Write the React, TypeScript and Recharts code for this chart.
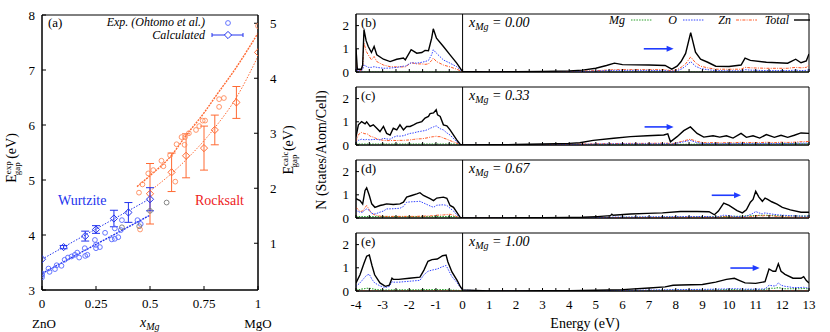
import React from "react";
import {
  ComposedChart,
  Line,
  Scatter,
  XAxis,
  YAxis,
  ErrorBar,
  ReferenceArea,
  ReferenceLine,
} from "recharts";

const SERIF = "'Liberation Serif','DejaVu Serif','Times New Roman',serif";
const BLUE = "#2233ee";
const ORANGE = "#ff6a33";
const RED = "#ee2222";
const GREY = "#777777";

// ---------------- Panel (a) data ----------------
const xTicksA = [0, 0.25, 0.5, 0.75, 1];
const yTicksExp = [3, 4, 5, 6, 7, 8];
const yTicksCalc = [1, 2, 3, 4, 5];

// experimental gaps (eV), wurtzite (blue)
const wzExp: [number, number][] = [
  [0, 3.27], [0, 3.23], [0, 3.3], [0.03, 3.39], [0.035, 3.33], [0.06, 3.38],
  [0.068, 3.45], [0.09, 3.44], [0.105, 3.55], [0.12, 3.59], [0.137, 3.61],
  [0.152, 3.64], [0.163, 3.68], [0.172, 3.59], [0.198, 3.76], [0.2, 3.62],
  [0.21, 3.64], [0.245, 3.91], [0.25, 3.82], [0.25, 3.76], [0.268, 3.78],
  [0.292, 4.04], [0.323, 3.92], [0.337, 4.12], [0.337, 3.93], [0.353, 3.96],
  [0.365, 4.09], [0.37, 4.27], [0.442, 4.27], [0.457, 4.2],
];
// experimental gaps, rocksalt (orange)
const rsExp: [number, number][] = [
  [0.449, 4.77], [0.454, 4.1], [0.465, 4.92], [0.492, 5.12], [0.515, 5.18],
  [0.553, 5.35], [0.562, 5.25], [0.593, 5.45], [0.617, 4.97], [0.623, 5.65],
  [0.646, 5.78], [0.662, 5.78], [0.66, 5.64], [0.68, 5.85], [0.713, 5.91],
  [0.728, 5.98], [0.744, 6.08], [0.755, 6.08], [0.82, 6.33], [0.82, 6.47],
  [0.842, 6.49], [1.0, 7.8],
];
// other experimental points (grey)
const otherExp: [number, number][] = [
  [0.37, 4.14], [0.45, 4.16], [0.5, 4.44], [0.577, 4.59],
];
// calculated gaps (right axis, eV) with error
const wzCalcX = [0, 0.1, 0.2, 0.25, 0.333, 0.4, 0.5];
const wzCalcY = [0.71, 0.93, 1.13, 1.25, 1.45, 1.56, 1.8];
const wzCalcErr = [0, 0.03, 0.09, 0.07, 0.15, 0.18, 0.21];
const rsCalcX = [0.5, 0.6, 0.667, 0.75, 0.8, 0.9, 1.0];
const rsCalcY = [1.9, 2.29, 2.59, 2.73, 3.06, 3.56, 4.47];
const rsCalcErr = [0.55, 0.35, 0.4, 0.4, 0.27, 0.29, 0];
// fits
const wzExpFit: [number, number][] = [[0, 3.3], [0.5, 4.36]];
const wzCalcFit: [number, number][] = [[0, 0.71], [0.5, 1.81]];
const rsExpFit: [number, number][] = [
  [0.44, 4.88], [0.5, 5.08], [0.6, 5.45], [0.665, 5.8], [0.75, 6.22],
  [0.8, 6.5], [0.9, 7.05], [1.0, 7.67],
];
const rsCalcFit: [number, number][] = [
  [0.5, 1.95], [0.6, 2.27], [0.7, 2.65], [0.8, 3.1], [0.9, 3.65], [1.0, 4.4],
];

// ---------------- DOS data ----------------
const eTicks = [
  -4, -3.5, -3, -2.5, -2, -1.5, -1, -0.5, 0, 0.5, 1, 1.5, 2, 2.5, 3, 3.5, 4,
  4.5, 5, 5.5, 6, 6.5, 7, 7.5, 8, 8.5, 9, 9.5, 10, 10.5, 11, 11.5, 12, 12.5, 13,
];
const nTicks = [0, 1, 2];

// (b) x = 0.00
const bE = [-4, -3.95, -3.8, -3.75, -3.7, -3.62, -3.54, -3.42, -3.32, -3.22, -2.97, -2.72, -2.47, -2.22, -2.15, -1.93, -1.72, -1.53, -1.41, -1.28, -1.16, -1.1, -0.98, -0.72, -0.47, -0.22, 0,
  1, 2, 3, 4, 4.5, 5, 5.4, 5.7, 6, 7, 7.6, 7.85, 8.05, 8.2, 8.37, 8.56, 8.74, 8.93, 9.2, 9.5, 10, 10.45, 10.6, 10.8, 11.4, 12.2, 12.5, 12.7, 12.9, 13];
const bTot = [1.0, 0.12, 0.12, 0.3, 1.83, 1.35, 1.1, 0.84, 1.1, 0.74, 0.55, 0.45, 0.55, 0.6, 0.52, 0.96, 0.81, 0.84, 0.93, 0.92, 1.46, 1.86, 1.46, 1.1, 0.74, 0.38, 0.02,
  0.005, 0.01, 0.025, 0.05, 0.08, 0.16, 0.28, 0.38, 0.32, 0.3, 0.28, 0.12, 0.25, 0.45, 0.8, 1.7, 0.85, 0.55, 0.42, 0.25, 0.24, 0.3, 0.6, 0.5, 0.42, 0.38, 0.55, 0.4, 0.48, 0.78];
const bZn = [0.5, 0.05, 0.06, 0.2, 1.25, 0.9, 0.74, 0.52, 0.67, 0.45, 0.3, 0.23, 0.22, 0.22, 0.22, 0.4, 0.35, 0.35, 0.33, 0.35, 0.5, 0.6, 0.45, 0.3, 0.22, 0.12, 0.01,
  0.003, 0.005, 0.01, 0.02, 0.04, 0.06, 0.08, 0.1, 0.1, 0.1, 0.1, 0.05, 0.1, 0.2, 0.35, 0.65, 0.4, 0.25, 0.18, 0.12, 0.12, 0.12, 0.2, 0.18, 0.16, 0.16, 0.2, 0.18, 0.2, 0.3];
const bO = [0.2, 0.04, 0.05, 0.1, 0.3, 0.25, 0.2, 0.2, 0.23, 0.2, 0.16, 0.17, 0.2, 0.25, 0.25, 0.4, 0.38, 0.42, 0.45, 0.5, 0.75, 0.96, 0.81, 0.52, 0.38, 0.23, 0.01,
  0.002, 0.003, 0.006, 0.01, 0.02, 0.04, 0.06, 0.07, 0.07, 0.07, 0.06, 0.03, 0.06, 0.12, 0.25, 0.45, 0.25, 0.15, 0.1, 0.06, 0.05, 0.05, 0.1, 0.08, 0.06, 0.06, 0.08, 0.06, 0.07, 0.1];
const bMgE = [-4, 13];
const bMg = [0, 0];

// (c) x = 0.33
const cE = [-4, -3.91, -3.79, -3.66, -3.6, -3.47, -3.35, -3.22, -3.1, -2.97, -2.85, -2.72, -2.6, -2.47, -2.35, -2.22, -2.1, -1.97, -1.84, -1.72, -1.53, -1.41, -1.28, -1.22, -1.09, -0.99, -0.94, -0.84, -0.72, -0.59, -0.47, -0.22, -0.09, 0,
  1, 2, 3, 4, 4.4, 4.9, 5.67, 6.3, 6.93, 7.55, 7.7, 7.8, 8.05, 8.3, 8.55, 8.8, 9.05, 9.4, 9.65, 9.9, 10.15, 10.45, 10.65, 10.9, 11.15, 11.4, 11.7, 11.95, 12.2, 12.45, 12.7, 13];
const cTot = [0.36, 0.87, 1.01, 0.91, 1.0, 0.8, 0.87, 0.72, 0.58, 0.8, 0.5, 0.43, 0.72, 0.65, 0.87, 0.65, 0.8, 0.8, 0.87, 0.94, 1.01, 1.16, 1.23, 1.35, 1.38, 1.52, 1.3, 1.23, 0.87, 0.83, 0.65, 0.22, 0.03, 0,
  0.01, 0.02, 0.04, 0.07, 0.1, 0.2, 0.29, 0.36, 0.4, 0.43, 0.48, 0.14, 0.36, 0.62, 0.78, 0.5, 0.34, 0.4, 0.34, 0.4, 0.3, 0.5, 0.33, 0.4, 0.3, 0.45, 0.33, 0.42, 0.33, 0.42, 0.52, 0.5];
const cZn = [0.15, 0.45, 0.54, 0.48, 0.5, 0.38, 0.34, 0.27, 0.23, 0.2, 0.19, 0.19, 0.2, 0.19, 0.2, 0.2, 0.21, 0.22, 0.24, 0.26, 0.27, 0.29, 0.32, 0.34, 0.36, 0.38, 0.36, 0.36, 0.3, 0.25, 0.19, 0.08, 0.02, 0,
  0.005, 0.01, 0.02, 0.03, 0.04, 0.05, 0.06, 0.07, 0.07, 0.08, 0.08, 0.04, 0.1, 0.18, 0.25, 0.15, 0.1, 0.1, 0.09, 0.1, 0.09, 0.12, 0.1, 0.11, 0.1, 0.12, 0.1, 0.12, 0.11, 0.12, 0.14, 0.15];
const cO = [0.1, 0.2, 0.25, 0.22, 0.24, 0.22, 0.24, 0.24, 0.22, 0.29, 0.26, 0.25, 0.33, 0.39, 0.38, 0.4, 0.45, 0.5, 0.52, 0.56, 0.6, 0.62, 0.68, 0.72, 0.78, 0.83, 0.78, 0.7, 0.65, 0.52, 0.43, 0.14, 0.02, 0,
  0.003, 0.006, 0.01, 0.02, 0.03, 0.04, 0.05, 0.05, 0.05, 0.05, 0.06, 0.03, 0.08, 0.14, 0.2, 0.1, 0.06, 0.06, 0.05, 0.06, 0.05, 0.07, 0.06, 0.06, 0.06, 0.07, 0.06, 0.07, 0.06, 0.07, 0.08, 0.08];
const cMgE = [-4, -0.3, 0, 4, 7, 13];
const cMg = [0.04, 0.04, 0, 0.01, 0.03, 0.05];

// (d) x = 0.67
const dE = [-4, -3.85, -3.75, -3.66, -3.6, -3.5, -3.41, -3.29, -3.1, -2.97, -2.85, -2.6, -2.35, -2.22, -2.1, -1.91, -1.72, -1.6, -1.47, -1.22, -1.09, -0.97, -0.72, -0.59, -0.47, -0.34, -0.22, -0.09, 0,
  1, 2, 3, 4, 4.5, 5.05, 5.55, 5.6, 5.65, 6.3, 6.93, 7.5, 8.18, 8.8, 9.25, 9.45, 9.6, 9.8, 10, 10.3, 10.5, 10.65, 10.8, 10.9, 11.0, 11.12, 11.25, 11.35, 11.45, 11.6, 11.8, 12, 12.3, 12.7, 13];
const dTot = [0.83, 0.75, 0.6, 1.19, 1.3, 0.97, 0.61, 0.46, 0.54, 0.57, 0.61, 0.58, 0.61, 0.68, 0.9, 0.97, 1.04, 1.09, 0.97, 0.83, 0.75, 0.86, 0.9, 0.85, 0.54, 0.46, 0.25, 0.03, 0,
  0.003, 0.008, 0.015, 0.025, 0.03, 0.06, 0.1, 0.16, 0.12, 0.17, 0.2, 0.22, 0.28, 0.28, 0.27, 0.14, 0.3, 0.64, 0.54, 0.32, 0.22, 0.35, 0.68, 0.8, 1.15, 0.9, 0.72, 0.86, 0.8, 0.7, 0.6, 0.46, 0.35, 0.25, 0.25];
const dZn = [0.46, 0.28, 0.3, 0.45, 0.54, 0.35, 0.2, 0.13, 0.08, 0.07, 0.07, 0.07, 0.07, 0.07, 0.07, 0.07, 0.07, 0.08, 0.08, 0.09, 0.1, 0.12, 0.13, 0.15, 0.16, 0.12, 0.06, 0.02, 0,
  0.001, 0.002, 0.004, 0.006, 0.008, 0.01, 0.015, 0.02, 0.02, 0.02, 0.02, 0.02, 0.03, 0.03, 0.03, 0.02, 0.03, 0.05, 0.05, 0.03, 0.03, 0.04, 0.06, 0.07, 0.09, 0.1, 0.09, 0.1, 0.1, 0.09, 0.07, 0.05, 0.04, 0.03, 0.03];
const dO = [0.32, 0.25, 0.25, 0.35, 0.39, 0.33, 0.2, 0.17, 0.25, 0.3, 0.39, 0.4, 0.42, 0.5, 0.68, 0.7, 0.71, 0.72, 0.65, 0.52, 0.46, 0.55, 0.57, 0.54, 0.42, 0.3, 0.14, 0.02, 0,
  0.001, 0.003, 0.006, 0.01, 0.012, 0.02, 0.03, 0.04, 0.04, 0.04, 0.05, 0.05, 0.06, 0.06, 0.06, 0.04, 0.06, 0.12, 0.1, 0.06, 0.05, 0.08, 0.15, 0.2, 0.28, 0.22, 0.18, 0.22, 0.2, 0.17, 0.14, 0.12, 0.1, 0.08, 0.08];
const dMgE = [-4, -0.3, 0, 4, 8, 10, 11.3, 12, 13];
const dMg = [0.06, 0.06, 0, 0.01, 0.04, 0.06, 0.12, 0.09, 0.08];

// (e) x = 1.00
const eE = [-4, -3.85, -3.7, -3.6, -3.5, -3.4, -3.3, -3.1, -2.9, -2.75, -2.65, -2.6, -2.4, -2, -1.6, -1.45, -1.3, -1.15, -0.95, -0.75, -0.62, -0.55, -0.4, -0.2, -0.1, 0,
  1, 2, 3, 4, 5, 6, 7, 7.6, 7.9, 8.2, 9, 9.5, 9.9, 10.2, 10.4, 10.6, 11, 11.35, 11.5, 11.65, 11.75, 11.85, 11.95, 12.1, 12.4, 12.7, 12.8, 12.9, 13];
const eTot = [0.35, 0.7, 1.2, 1.5, 1.55, 1.1, 0.7, 0.35, 0.2, 0.25, 0.55, 0.5, 0.5, 0.55, 0.6, 0.9, 1.28, 1.35, 1.38, 1.52, 1.55, 1.25, 0.82, 0.45, 0.22, 0.05,
  0.002, 0.004, 0.008, 0.015, 0.03, 0.06, 0.13, 0.18, 0.25, 0.26, 0.28, 0.38, 0.5, 0.55, 0.45, 0.35, 0.33, 0.4, 0.95, 0.85, 0.85, 1.17, 0.85, 0.72, 0.55, 0.55, 0.62, 0.45, 0.35];
const eO = [0.2, 0.35, 0.55, 0.68, 0.72, 0.5, 0.35, 0.22, 0.15, 0.2, 0.4, 0.38, 0.38, 0.42, 0.46, 0.7, 0.85, 0.9, 0.95, 1.05, 1.1, 0.95, 0.62, 0.35, 0.18, 0.04,
  0.001, 0.002, 0.004, 0.008, 0.015, 0.025, 0.04, 0.05, 0.06, 0.06, 0.07, 0.08, 0.09, 0.1, 0.09, 0.08, 0.08, 0.09, 0.25, 0.22, 0.22, 0.35, 0.25, 0.2, 0.15, 0.15, 0.16, 0.14, 0.13];
const eMg = [0.05, 0.07, 0.1, 0.12, 0.12, 0.1, 0.07, 0.05, 0.04, 0.04, 0.05, 0.05, 0.05, 0.05, 0.05, 0.06, 0.06, 0.06, 0.06, 0.06, 0.06, 0.05, 0.04, 0.03, 0.02, 0.01,
  0.001, 0.002, 0.003, 0.005, 0.01, 0.015, 0.02, 0.03, 0.04, 0.04, 0.04, 0.05, 0.06, 0.06, 0.05, 0.05, 0.05, 0.06, 0.12, 0.12, 0.12, 0.15, 0.12, 0.1, 0.1, 0.1, 0.11, 0.1, 0.1];
const eZnE = [-4, 13];
const eZn = [0, 0];

const xmgLabels = ["0.00", "0.33", "0.67", "1.00"];
const panelLetters = ["(b)", "(c)", "(d)", "(e)"];
// arrow positions [E start, E end, N]
const arrowB = [6.8, 7.92, 1.0];
const arrowC = [6.83, 7.92, 0.78];
const arrowD = [9.35, 10.45, 0.98];
const arrowE = [10.05, 11.15, 0.99];

// ---------------- helpers ----------------
const pairs = (p: [number, number][]) => p.map(([x, y]) => ({ x, y }));
const zip = (xs: number[], ys: number[]) => xs.map((x, i) => ({ x, y: ys[i] }));
const zipErr = (xs: number[], ys: number[], es: number[]) =>
  xs.map((x, i) => ({ x, y: ys[i], err: es[i] }));

const tickStyle = { fill: "#000", fontSize: 13, fontFamily: SERIF };

const Circle = (color: string) => (p: any) =>
  p.cx == null ? <g /> : <circle cx={p.cx} cy={p.cy} r={2.4} fill="none" stroke={color} strokeWidth={0.9} />;
const Diamond = (color: string) => (p: any) =>
  p.cx == null ? <g /> : (
    <polygon
      points={`${p.cx},${p.cy - 3.6} ${p.cx + 3.6},${p.cy} ${p.cx},${p.cy + 3.6} ${p.cx - 3.6},${p.cy}`}
      fill="none"
      stroke={color}
      strokeWidth={1}
    />
  );

const ArrowShape = (p: any) => {
  const { x1, y1, x2, y2 } = p;
  if (x1 == null) return <g />;
  return (
    <g>
      <line x1={x1} y1={y1} x2={x2 - 6} y2={y2} stroke="#1f3bff" strokeWidth={1.6} />
      <polygon points={`${x2},${y2} ${x2 - 7},${y2 - 3} ${x2 - 7},${y2 + 3}`} fill="#1f3bff" />
    </g>
  );
};

function PanelA() {
  return (
    <div style={{ position: "absolute", left: 0, top: 0 }}>
      <ComposedChart width={300} height={332} margin={{ top: 15, right: 0, bottom: 12, left: 0 }}>
        <XAxis
          type="number"
          dataKey="x"
          domain={[0, 1]}
          ticks={xTicksA}
          interval={0}
          allowDataOverflow
          height={30}
          tickSize={-4}
          tickMargin={13}
          stroke="#000"
          tick={tickStyle}
        />
        <YAxis
          yAxisId="L"
          type="number"
          domain={[3, 8]}
          ticks={yTicksExp}
          interval={0}
          allowDataOverflow
          width={42}
          tickSize={-4}
          tickMargin={11}
          stroke="#000"
          tick={tickStyle}
        />
        <YAxis
          yAxisId="R"
          orientation="right"
          type="number"
          domain={[0.15, 5.15]}
          ticks={yTicksCalc}
          interval={0}
          allowDataOverflow
          width={42}
          tickSize={-4}
          tickMargin={16}
          stroke="#000"
          tick={{ ...tickStyle, textAnchor: "start" }}
        />
        <ReferenceArea yAxisId="L" x1={0} x2={1} y1={3} y2={8} fill="none" stroke="#000" strokeWidth={1} ifOverflow="visible" />
        <Line yAxisId="L" data={pairs(wzExpFit)} dataKey="y" stroke={BLUE} strokeWidth={1.4} strokeDasharray="2 1" dot={false} isAnimationActive={false} />
        <Line yAxisId="R" data={pairs(wzCalcFit)} dataKey="y" stroke={BLUE} strokeWidth={1} strokeDasharray="1.5 1.5" dot={false} isAnimationActive={false} />
        <Line yAxisId="L" data={pairs(rsExpFit)} type="monotone" dataKey="y" stroke={ORANGE} strokeWidth={1.4} strokeDasharray="2 1" dot={false} isAnimationActive={false} />
        <Line yAxisId="R" data={pairs(rsCalcFit)} type="monotone" dataKey="y" stroke={ORANGE} strokeWidth={1} strokeDasharray="1.5 1.5" dot={false} isAnimationActive={false} />
        <Scatter yAxisId="L" data={pairs(wzExp)} dataKey="y" shape={Circle("#5566ff")} isAnimationActive={false} />
        <Scatter yAxisId="L" data={pairs(rsExp)} dataKey="y" shape={Circle("#ff8a5a")} isAnimationActive={false} />
        <Scatter yAxisId="L" data={pairs(otherExp)} dataKey="y" shape={Circle(GREY)} isAnimationActive={false} />
        <Scatter yAxisId="R" data={zipErr(rsCalcX, rsCalcY, rsCalcErr)} dataKey="y" shape={Diamond(ORANGE)} isAnimationActive={false}>
          <ErrorBar dataKey="err" direction="y" width={4} stroke={ORANGE} strokeWidth={1} />
        </Scatter>
        <Scatter yAxisId="R" data={zipErr(wzCalcX, wzCalcY, wzCalcErr)} dataKey="y" shape={Diamond(BLUE)} isAnimationActive={false}>
          <ErrorBar dataKey="err" direction="y" width={4} stroke={BLUE} strokeWidth={1} />
        </Scatter>
      </ComposedChart>
    </div>
  );
}

type DosProps = {
  top: number;
  last: boolean;
  tot: { x: number; y: number }[];
  zn: { x: number; y: number }[];
  o: { x: number; y: number }[];
  mg: { x: number; y: number }[];
  arrow: number[];
};

function DosPanel({ top, last, tot, zn, o, mg, arrow }: DosProps) {
  // plot area is always 58 px tall
  const h = last ? 58 + 1 + 44 : 58 + 1 + 1 + 8;
  return (
    <div style={{ position: "absolute", left: 300, top: top - 1 }}>
      <ComposedChart width={530} height={h} margin={{ top: 1, right: 21, bottom: last ? 0 : 8, left: 0 }}>
        <XAxis
          type="number"
          dataKey="x"
          domain={[-4, 13]}
          ticks={eTicks}
          interval={0}
          allowDataOverflow
          height={last ? 44 : 1}
          tickSize={-3}
          tickMargin={12}
          stroke="#000"
          tick={tickStyle}
          tickFormatter={(v: number) => (last && Number.isInteger(v) ? String(v) : "")}
        />
        <YAxis
          type="number"
          domain={[0, 2.5]}
          ticks={nTicks}
          interval={0}
          allowDataOverflow
          width={56}
          tickSize={-3}
          tickMargin={10}
          stroke="#000"
          tick={tickStyle}
        />
        <ReferenceArea x1={-4} x2={13} y1={0} y2={2.5} fill="none" stroke="#000" strokeWidth={1} ifOverflow="visible" />
        <ReferenceLine x={0} stroke="#000" strokeWidth={1} />
        <Line data={mg} dataKey="y" stroke="#2aa02a" strokeWidth={1.1} strokeDasharray="1.5 1.2" dot={false} isAnimationActive={false} />
        <Line data={zn} dataKey="y" stroke="#ff5a28" strokeWidth={1} strokeDasharray="3 1.2 1 1.2" dot={false} isAnimationActive={false} />
        <Line data={o} dataKey="y" stroke="#3344ff" strokeWidth={1} strokeDasharray="1.5 1.2" dot={false} isAnimationActive={false} />
        <Line data={tot} dataKey="y" stroke="#000" strokeWidth={1.4} dot={false} isAnimationActive={false} />
        <ReferenceLine
          segment={[{ x: arrow[0], y: arrow[2] }, { x: arrow[1], y: arrow[2] }]}
          stroke="#1f3bff"
          shape={ArrowShape}
        />
      </ComposedChart>
    </div>
  );
}

const panelTops = [14, 87, 160, 233];

function Overlay() {
  const t = { fontFamily: SERIF, fill: "#000" } as any;
  return (
    <svg
      width={830}
      height={332}
      style={{ position: "absolute", left: 0, top: 0, pointerEvents: "none" }}
    >
      {/* panel (a) annotations */}
      <text x={48} y={27} fontSize={13} {...t}>(a)</text>
      <text x={205} y={26} fontSize={12} fontStyle="italic" textAnchor="end" {...t}>
        Exp. (Ohtomo et al.)
      </text>
      <circle cx={228} cy={23} r={2.4} fill="none" stroke="#5566ff" strokeWidth={0.9} />
      <text x={205} y={38.5} fontSize={12} fontStyle="italic" textAnchor="end" {...t}>
        Calculated
      </text>
      <line x1={212} y1={35} x2={243} y2={35} stroke={BLUE} strokeWidth={1} />
      <line x1={212} y1={33} x2={212} y2={37} stroke={BLUE} strokeWidth={1} />
      <line x1={243} y1={33} x2={243} y2={37} stroke={BLUE} strokeWidth={1} />
      <polygon points="228,31.4 231.6,35 228,38.6 224.4,35" fill="#fff" stroke={BLUE} strokeWidth={1} />
      <text x={58} y={205} fontSize={14} fontFamily={SERIF} fill={BLUE}>Wurtzite</text>
      <text x={195} y={205} fontSize={14} fontFamily={SERIF} fill={RED}>Rocksalt</text>
      <text x={44} y={328} fontSize={13} textAnchor="middle" {...t}>ZnO</text>
      <text x={258} y={328} fontSize={13} textAnchor="middle" {...t}>MgO</text>
      <text x={140} y={327} fontSize={14} fontStyle="italic" {...t}>
        x<tspan fontSize={10} dy={3}>Mg</tspan>
      </text>
      <text transform="translate(16,158) rotate(-90)" fontSize={14} textAnchor="middle" {...t}>
        E<tspan fontSize={9} dy={-5}>exp</tspan>
        <tspan fontSize={9} dx={-14} dy={9}>gap</tspan>
        <tspan fontSize={14} dy={-4}> (eV)</tspan>
      </text>
      <text transform="translate(293,150) rotate(-90)" fontSize={14} textAnchor="middle" {...t}>
        E<tspan fontSize={9} dy={-5}>calc</tspan>
        <tspan fontSize={9} dx={-16} dy={9}>gap</tspan>
        <tspan fontSize={14} dy={-4}> (eV)</tspan>
      </text>

      {/* DOS annotations */}
      {panelTops.map((top, i) => (
        <g key={i}>
          <text x={361} y={top + 13} fontSize={13} {...t}>{panelLetters[i]}</text>
          <text x={469} y={top + 13} fontSize={14} fontStyle="italic" {...t}>
            x<tspan fontSize={10} dy={3}>Mg</tspan>
            <tspan dy={-3}> = {xmgLabels[i]}</tspan>
          </text>
        </g>
      ))}
      {/* legend of (b) */}
      <g fontSize={12} fontStyle="italic">
        <text x={625} y={24} textAnchor="end" {...t}>Mg</text>
        <line x1={631} y1={20} x2={652} y2={20} stroke="#2aa02a" strokeWidth={1.1} strokeDasharray="1.5 1.2" />
        <text x={677} y={24} textAnchor="end" {...t}>O</text>
        <line x1={683} y1={20} x2={704} y2={20} stroke="#3344ff" strokeWidth={1} strokeDasharray="1.5 1.2" />
        <text x={731} y={24} textAnchor="end" {...t}>Zn</text>
        <line x1={736} y1={20} x2={757} y2={20} stroke="#ff5a28" strokeWidth={1} strokeDasharray="3 1.2 1 1.2" />
        <text x={789} y={24} textAnchor="end" {...t}>Total</text>
        <line x1={794} y1={20} x2={810} y2={20} stroke="#000" strokeWidth={1.4} />
      </g>
      <text transform="translate(326,150) rotate(-90)" fontSize={14} textAnchor="middle" {...t}>
        N (States/Atom/Cell)
      </text>
      <text x={585} y={328} fontSize={14} textAnchor="middle" {...t}>Energy (eV)</text>
    </svg>
  );
}

export default function App() {
  return (
    <div style={{ position: "absolute", left: 0, top: 0, width: 830, height: 332, background: "#fff" }}>
      <PanelA />
      <DosPanel top={panelTops[0]} last={false} tot={zip(bE, bTot)} zn={zip(bE, bZn)} o={zip(bE, bO)} mg={zip(bMgE, bMg)} arrow={arrowB} />
      <DosPanel top={panelTops[1]} last={false} tot={zip(cE, cTot)} zn={zip(cE, cZn)} o={zip(cE, cO)} mg={zip(cMgE, cMg)} arrow={arrowC} />
      <DosPanel top={panelTops[2]} last={false} tot={zip(dE, dTot)} zn={zip(dE, dZn)} o={zip(dE, dO)} mg={zip(dMgE, dMg)} arrow={arrowD} />
      <DosPanel top={panelTops[3]} last={true} tot={zip(eE, eTot)} zn={zip(eZnE, eZn)} o={zip(eE, eO)} mg={zip(eE, eMg)} arrow={arrowE} />
      <Overlay />
    </div>
  );
}
